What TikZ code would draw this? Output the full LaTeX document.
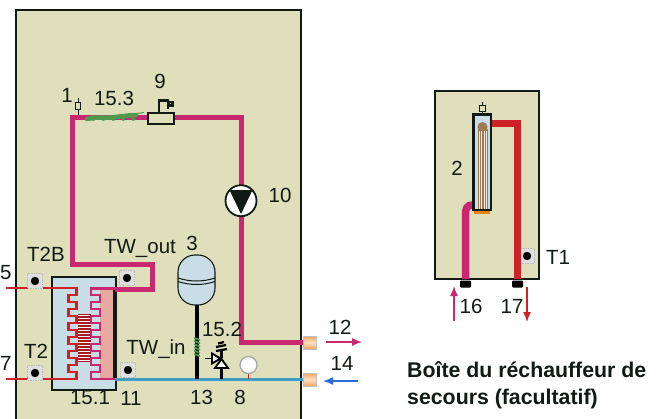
\documentclass[tikz,border=0pt]{standalone}
\usepackage{fontspec}
\setmainfont{Liberation Sans}
\usetikzlibrary{arrows.meta,shapes.geometric}
\definecolor{panel}{HTML}{DFE0BB}
\definecolor{pipem}{HTML}{C8286F}
\definecolor{piper}{HTML}{CE2229}
\definecolor{pipeb}{HTML}{3F9CC4}
\definecolor{icy}{HTML}{C9DDE6}
\definecolor{rosy}{HTML}{E8A9A0}
\definecolor{coil}{HTML}{4E9A4A}
\definecolor{ink}{HTML}{111A14}
\tikzset{
  x=1pt,y=-1pt,
  lab/.style={font=\fontsize{20.5}{22}\selectfont,text=ink,inner sep=0pt},
  note/.style={font=\fontsize{21.3}{27}\selectfont\bfseries,text=ink,inner sep=0pt,align=left,anchor=west},
  box/.style={draw=ink,line width=1.8pt,fill=panel},
  mpipe/.style={draw=pipem,line width=5pt,line join=miter},
  rung/.style={line width=2.2pt,line join=miter},
  flow/.style={line width=1.4pt,-{Latex[length=10pt,width=8pt]}},
  port/.style={minimum width=13pt,minimum height=13pt,inner sep=0pt,shade,top color=orange!55!brown!70!white,bottom color=orange!55!brown!70!white,middle color=orange!25!white},
  foot/.style={fill=black,draw=none,minimum width=11pt,minimum height=7pt,inner sep=0pt,rounded corners=1pt},
}
\newcommand{\probe}[2]{%
  \fill[gray!25,draw=gray!55,densely dotted,line width=.7pt] (#1-7.5,#2-7.5) rectangle (#1+7.5,#2+7.5);
  \fill[black] (#1,#2) circle (4.2);}
\begin{document}
\begin{tikzpicture}
\useasboundingbox (0,0) rectangle (660,418);
\fill[white] (0,0) rectangle (660,418);
\begin{scope}
\clip (0,0) rectangle (660,418);
\draw[box] (16,10) rectangle (301,430);
\end{scope}
\draw[box] (435,91) rectangle (539,279);

% named points
\coordinate (pa) at (72,264);
\coordinate (pb) at (72,117);
\coordinate (pc) at (241,117);
\coordinate (pd) at (241,342);
\coordinate (pe) at (303,342);

% heat exchanger
\fill[icy] (52,277) rectangle (116,390);
\fill[rosy] (100,289) rectangle (115,380);
\draw[ink,line width=2pt] (52,277) rectangle (116,390);
\draw[ink,line width=3.6pt] (115,289) -- (115,380);

% mid stripes
\fill[piper!80!black] (77.5,314) rectangle (91,362);
\foreach \k in {0,...,15} \draw[white,line width=1pt] (77.5,315.5+3*\k) -- (91,315.5+3*\k);

% serpentines
\draw[piper,rung] (6,288) -- (76.5,288) -- (76.5,295)
  \foreach \k in {0,...,5} { -- (68.5,295+14*\k) -- (68.5,302+14*\k) -- (76.5,302+14*\k) -- (76.5,309+14*\k) }
  ;
\draw[piper,rung] (76.5,372) -- (76.5,379) -- (6,379);
\draw[pipem,rung] (115,288.5) -- (91,288.5) -- (91,295)
  \foreach \k in {0,...,5} { -- (100,295+14*\k) -- (100,302+14*\k) -- (91,302+14*\k) -- (91,309+14*\k) }
  ;
\draw[pipem,rung] (91,372) -- (91,379) -- (115,379);

% magenta circuit
\draw[mpipe] (115,289) -- (152,289) -- (152,264) -- (pa) -- (pb) -- (pc) -- (pd) -- (pe);

% blue pipe and vessel stem
\draw[pipeb,line width=2.8pt] (115,379.5) -- (303,379.5);
\draw[black,line width=4pt] (197,303) -- (197,379);

% expansion vessel
\node[draw=ink,line width=1.1pt,fill=icy,minimum width=37pt,minimum height=50pt,inner sep=0pt,rounded corners=17pt] (vessel) at (196.5,280) {};
\draw[ink,line width=1pt] (178,278) .. controls (190,282) and (203,282) .. (215,278);
\draw[ink,line width=1pt] (178,281.5) .. controls (190,285.5) and (203,285.5) .. (215,281.5);

% green coils
\foreach \k in {0,...,5} \draw[coil,line width=1.8pt,line cap=round] (194.5,338+3.2*\k) -- (199.5,340+3.2*\k);
\draw[coil,line width=4.5pt,line cap=round] (87,119) .. controls (100,116) and (103,119) .. (115,117) .. controls (125,116) and (130,115) .. (136,115);
\foreach \k in {0,...,4} \draw[coil,line width=3pt] (92+10*\k,115.5) -- (94+10*\k,120.5);
\draw[coil,line width=1pt] (130,114.5) -- (144,112.5);

% valve 9
\node[draw=ink,line width=1.2pt,fill=panel,minimum width=26pt,minimum height=11pt,inner sep=0pt] (v9) at (161,118.5) {};
\draw[ink,line width=2.6pt] (159,113) -- (159,100.5) -- (168,100.5) -- (168,109);
\draw[ink,line width=2.2pt,fill=panel] (169,102) rectangle (172.5,105.5);

% sensor 1
\draw[ink,line width=.7pt] (78,98) -- (78,115);
\node[draw=ink,line width=.7pt,fill=panel,minimum width=5pt,minimum height=7.5pt,inner sep=0pt] (s1) at (78,106) {};

% pump
\node[circle,draw=ink,fill=white,line width=1.8pt,minimum size=31pt,inner sep=0pt] (pump) at (241,200.7) {};
\fill[ink] (229.5,190) -- (252.5,190) -- (241,214) -- cycle;

% relief valve 15.2
\draw[black,line width=2.4pt] (221.5,379) -- (221.5,368);
\draw[black,line width=1.9pt,fill=white] (221.5,359) -- (228,368) -- (215,368) -- cycle;
\draw[black,line width=1.9pt,fill=white] (220.5,358.5) -- (212,353.5) -- (212,363.5) -- cycle;
\draw[black,line width=1.9pt] (205,358.5) -- (212,358.5);
\draw[black,line width=2.4pt] (221.5,358) -- (221.5,351);
\draw[black,line width=2.2pt] (216,351) -- (227,349) (216,347) -- (226,345) (218,343.5) -- (224,342);

% gauge 8
\draw[piper,line width=1.3pt] (248.5,374) -- (248.5,379);
\node[circle,draw=gray!70,fill=white,line width=1.3pt,minimum size=17pt,inner sep=0pt] (g8) at (248.5,365) {};

% ports
\node[port,draw=gray!50,line width=.4pt] (p12) at (310,342.5) {};
\node[port,draw=gray!50,line width=.4pt] (p14) at (310,379.5) {};

% probes
\probe{35}{281}
\probe{127}{278}
\probe{35}{373}
\probe{128}{370}
\probe{527}{256}

% flow arrows outside
\coordinate (a12s) at (326,342); \coordinate (a12e) at (362,342);
\coordinate (a14s) at (358,381); \coordinate (a14e) at (323,381);
\draw[flow,pipem] (a12s) -- (a12e);
\draw[flow,pipeb!70!blue] (a14s) -- (a14e);

% right box pipes
\draw[piper,line width=7.5pt] (488,123.5) -- (517.5,123.5) -- (517.5,279);
\draw[pipem,line width=7.5pt] (474,205) -- (472,205) .. controls (467,205) and (465.5,209) .. (465.5,214) -- (465.5,279);

% heater
\fill[icy] (474,115) rectangle (490,210);
\fill[brown!70!black!80!white] (477.5,129) rectangle (487.5,210);
\fill[brown!70!black!80!white] (482.5,127) circle (5);
\foreach \xx in {479,481.5,484,486} \draw[white!85!brown,line width=.7pt] (\xx,131) -- (\xx,210);
\draw[ink,line width=2.6pt] (473.5,114.5) rectangle (491,210);
\fill[orange!70!brown] (474,211) rectangle (490,214);
\draw[ink,line width=.7pt] (482,102) -- (482,114);
\node[draw=ink,line width=.7pt,fill=panel,minimum width=6pt,minimum height=6pt,inner sep=0pt] (s2) at (482,108) {};

% feet
\node[foot] (f16) at (465.5,284) {};
\node[foot] (f17) at (517.5,284) {};
\coordinate (a16s) at (454,321); \coordinate (a16e) at (454,286);
\coordinate (a17s) at (527,287); \coordinate (a17e) at (527,322);
\draw[flow,pipem] (a16s) -- (a16e);
\draw[flow,piper] (a17s) -- (a17e);

% labels
\node[lab] (l5) at (5.8,273) {5};
\node[lab] (l7) at (5.8,363) {7};
\node[lab] (l1) at (67,95) {1};
\node[lab] (l153) at (114,98) {15.3};
\node[lab] (l9) at (160,81) {9};
\node[lab] (l10) at (280,195) {10};
\node[lab] (lT2B) at (46,254) {T2B};
\node[lab] (lTWo) at (140,248) {TW\_out};
\node[lab] (l3) at (192,243) {3};
\node[lab] (lT2) at (36,351) {T2};
\node[lab] (lTWi) at (156,349) {TW\_in};
\node[lab] (l152) at (222,329) {15.2};
\node[lab] (l151) at (90,398) {15.1};
\node[lab] (l11) at (131,398) {11};
\node[lab] (l13) at (201.5,397) {13};
\node[lab] (l8) at (240,397) {8};
\node[lab] (l12) at (340,327) {12};
\node[lab] (l14) at (342,363) {14};
\node[lab] (l2) at (457,168) {2};
\node[lab] (lT1) at (558,257) {T1};
\node[lab] (l16) at (471,306) {16};
\node[lab] (l17) at (512,306) {17};
\node[note] (n) at (407,385.5) {Boîte du réchauffeur de\\secours (facultatif)};
\end{tikzpicture}
\end{document}
